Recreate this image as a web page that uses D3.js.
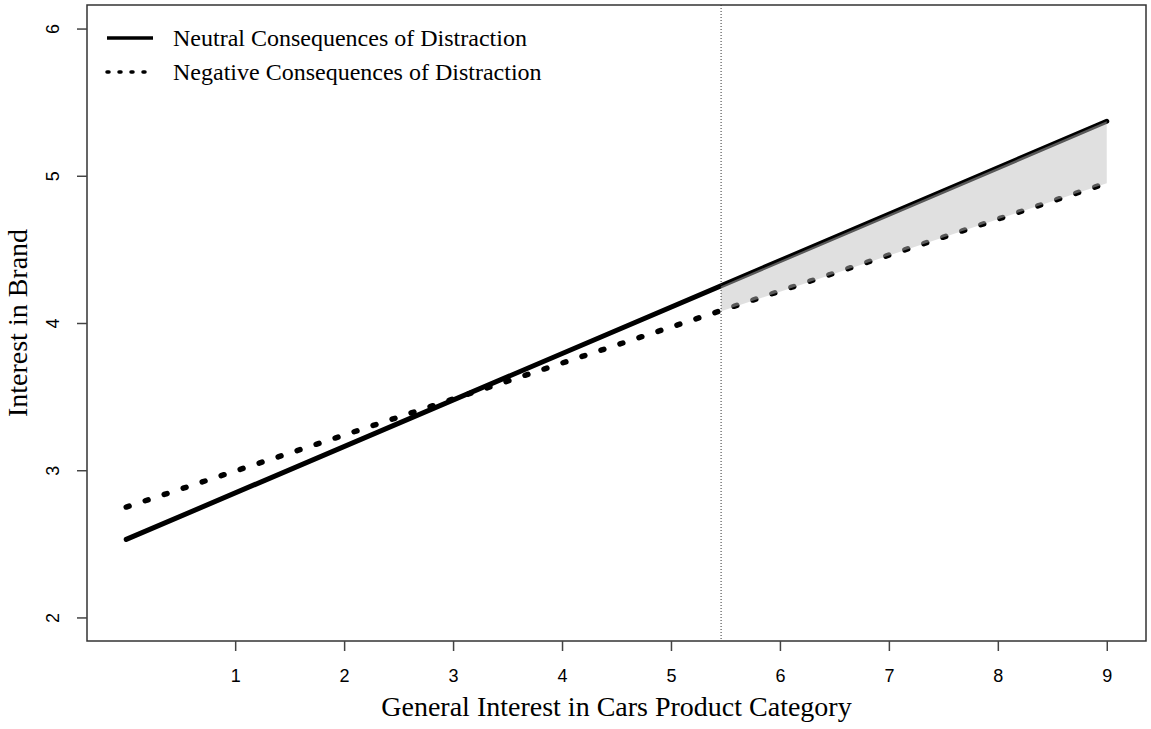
<!DOCTYPE html>
<html>
<head>
<meta charset="utf-8">
<script src="https://cdn.jsdelivr.net/npm/d3@7"></script>
<style>
  body { margin: 0; background: #fff; }
</style>
</head>
<body>
<div class="chart"></div>
<script>
// values
var xEnds = [0, 9];
var neutral = [2.53, 5.37];
var negative = [2.75, 4.95];
var cutoff = 5.46;
var shadeX = [5.46, 9];
var shadeTop = [4.25, 5.37];
var shadeBottom = [4.08, 4.95];
var xTicks = [1, 2, 3, 4, 5, 6, 7, 8, 9];
var yTicks = [2, 3, 4, 5, 6];
var legendLabels = ["Neutral Consequences of Distraction", "Negative Consequences of Distraction"];

var width = 1151, height = 729;
var plotLeft = 87, plotRight = 1146, plotTop = 5, plotBottom = 641;

var svg = d3.select(".chart")
    .append("svg")
    .attr("width", width)
    .attr("height", height)

var x = d3.scaleLinear().domain([-0.36, 9.36]).range([plotLeft, plotRight]);
var y = d3.scaleLinear().domain([1.84, 6.16]).range([plotBottom, plotTop]);

var line = d3.line()
    .x(function (d) { return x(d[0]); })
    .y(function (d) { return y(d[1]); });

svg.append("path")
    .datum(d3.zip(xEnds, neutral))
    .attr("d", line)
    .attr("fill", "none")
    .attr("stroke", "#000")
    .attr("stroke-width", 5)
    .attr("stroke-linecap", "round")

svg.append("path")
    .datum(d3.zip(xEnds, negative))
    .attr("d", line)
    .attr("fill", "none")
    .attr("stroke", "#000")
    .attr("stroke-width", 5.5)
    .attr("stroke-linecap", "round")
    .attr("stroke-dasharray", "3,17")

// shaded region between the lines, laid over them
var area = d3.area()
    .x(function (d) { return x(d[0]); })
    .y0(function (d) { return y(d[2]); })
    .y1(function (d) { return y(d[1]); });

svg.append("path")
    .datum(d3.zip(shadeX, shadeTop, shadeBottom))
    .attr("d", area)
    .attr("fill", "rgb(189,189,189)")
    .attr("fill-opacity", 0.47)

svg.append("line")
    .attr("x1", x(cutoff)).attr("x2", x(cutoff))
    .attr("y1", plotTop).attr("y2", plotBottom)
    .attr("stroke", "#333")
    .attr("stroke-width", 1)
    .attr("stroke-dasharray", "1,2")

// box
svg.append("rect")
    .attr("x", plotLeft).attr("y", plotTop)
    .attr("width", plotRight - plotLeft).attr("height", plotBottom - plotTop)
    .attr("fill", "none")
    .attr("stroke", "#333")
    .attr("stroke-width", 1.5)

var xAxis = svg.append("g")
    .attr("transform", "translate(0," + plotBottom + ")")
    .call(d3.axisBottom(x).tickValues(xTicks).tickSize(10).tickPadding(18).tickFormat(d3.format("d")))
xAxis.select(".domain").remove()
xAxis.selectAll("line").attr("stroke", "#444").attr("stroke-width", 1.5)
xAxis.selectAll("text")
    .style("font-size", "18px")
    .attr("font-family", "Liberation Sans, Arial, sans-serif")
    .attr("fill", "#000")

var yAxis = svg.append("g")
    .attr("transform", "translate(" + plotLeft + ",0)")
    .call(d3.axisLeft(y).tickValues(yTicks).tickSize(10).tickFormat(d3.format("d")))
yAxis.select(".domain").remove()
yAxis.selectAll("line").attr("stroke", "#444").attr("stroke-width", 1.5)
yAxis.selectAll("text")
    .attr("x", 0).attr("dy", null)
    .attr("text-anchor", "middle")
    .attr("transform", "translate(-28,0) rotate(-90)")
    .style("font-size", "18px")
    .attr("font-family", "Liberation Sans, Arial, sans-serif")
    .attr("fill", "#000")

svg.append("text")
    .attr("x", (plotLeft + plotRight) / 2)
    .attr("y", 716)
    .attr("text-anchor", "middle")
    .text("General Interest in Cars Product Category")
    .style("font-size", "28px")
    .attr("font-family", "Liberation Serif, Times New Roman, serif")
    .attr("fill", "#000")

svg.append("text")
    .attr("transform", "translate(27," + ((plotTop + plotBottom) / 2) + ") rotate(-90)")
    .attr("text-anchor", "middle")
    .text("Interest in Brand")
    .style("font-size", "28px")
    .attr("font-family", "Liberation Serif, Times New Roman, serif")
    .attr("fill", "#000")

// legend
var legend = svg.append("g").attr("transform", "translate(107,38)");
legendLabels.forEach(function (label, i) {
    legend.append("line")
        .attr("x1", 0).attr("x2", 46)
        .attr("y1", i * 34).attr("y2", i * 34)
        .attr("stroke", "#000")
        .attr("stroke-width", 3.5)
        .attr("stroke-dasharray", i == 1 ? "2,10" : null)
        .attr("stroke-linecap", i == 1 ? "round" : "butt")
    legend.append("text")
        .attr("x", 66)
        .attr("y", i * 34 + 8)
        .text(label)
        .style("font-size", "24px")
        .attr("font-family", "Liberation Serif, Times New Roman, serif")
        .attr("fill", "#000")
});
</script>
</body>
</html>
